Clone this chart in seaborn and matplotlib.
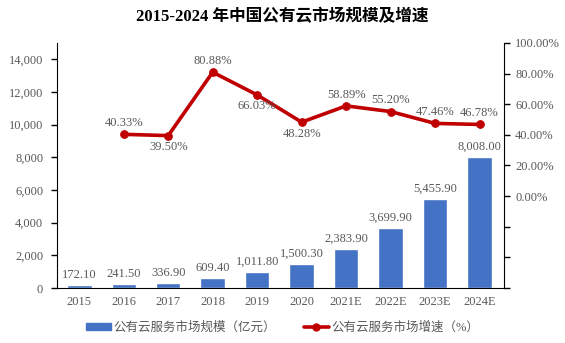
import numpy as np
import pandas as pd
import matplotlib
matplotlib.use("Agg")
import matplotlib.pyplot as plt
import seaborn as sns
from matplotlib.lines import Line2D
from matplotlib.patches import Patch

years = ["2015", "2016", "2017", "2018", "2019", "2020", "2021E", "2022E", "2023E", "2024E"]
market_size = [172.10, 241.50, 336.90, 609.40, 1011.80, 1500.30, 2383.90, 3699.90, 5455.90, 8008.00]
growth_years = ["2016", "2017", "2018", "2019", "2020", "2021E", "2022E", "2023E", "2024E"]
growth_rate = [40.33, 39.50, 80.88, 66.03, 48.28, 58.89, 55.20, 47.46, 46.78]
growth_label_pos = ["above", "below", "above", "below", "below", "above", "above", "above", "above"]

sns.set_style("white")
plt.rcParams["font.family"] = ["Liberation Serif", "Noto Sans CJK SC", "DejaVu Sans"]

bar_color = "#4472C4"
line_color = "#C00000"
text_color = "#595959"

fig = plt.figure(figsize=(5.65, 3.43), dpi=100)
ax = fig.add_axes([0.101, 0.160, 0.791, 0.715])

df_bar = pd.DataFrame({"year": years, "size": market_size})
sns.barplot(data=df_bar, x="year", y="size", order=years, color=bar_color,
            width=0.55, saturation=1, ax=ax)
ax.set_ylim(0, 15000)
ax.set_xlim(-0.5, 9.55)
ax.set_yticks(np.arange(0, 15000, 2000))
ax.set_yticklabels([f"{v:,.0f}" for v in np.arange(0, 15000, 2000)], color=text_color, fontsize=9)
ax.set_xlabel("")
ax.set_ylabel("")
ax.tick_params(axis="x", labelsize=9, colors=text_color, length=0, pad=6)
ax.tick_params(axis="y", length=4, width=1, color="black", direction="out", left=True, pad=6)
ax.spines["top"].set_visible(False)
ax.spines["right"].set_visible(False)
ax.spines["left"].set_color("black")
ax.spines["bottom"].set_color("black")

for i, v in enumerate(market_size):
    ax.text(i, v + 250, f"{v:,.2f}", ha="center", va="bottom", fontsize=9, color=text_color)

ax2 = ax.twinx()
df_line = pd.DataFrame({"x": [years.index(y) for y in growth_years], "g": growth_rate})
sns.lineplot(data=df_line, x="x", y="g", color=line_color, linewidth=2.6,
             marker="o", markersize=5.5, markeredgecolor=line_color, ax=ax2)
ax2.set_ylim(-60, 100)
ax2.set_xlim(-0.5, 9.55)
ticks2 = np.arange(-60, 101, 20)
ax2.set_yticks(ticks2)
ax2.set_yticklabels([f"{t:.2f}%" if t >= 0 else "" for t in ticks2], color=text_color, fontsize=9)
ax2.tick_params(axis="y", length=4, width=1, color="black", direction="out", right=True, pad=4)
ax2.set_ylabel("")
ax2.set_xlabel("")
ax2.spines["top"].set_visible(False)
ax2.spines["left"].set_visible(False)
ax2.spines["bottom"].set_visible(False)
ax2.spines["right"].set_color("black")

for x, g, pos in zip(df_line["x"], growth_rate, growth_label_pos):
    if pos == "above":
        ax2.text(x, g + 3.5, f"{g:.2f}%", ha="center", va="bottom", fontsize=9, color=text_color)
    else:
        ax2.text(x, g - 3.5, f"{g:.2f}%", ha="center", va="top", fontsize=9, color=text_color)

fig.suptitle("2015-2024 年中国公有云市场规模及增速", x=0.5, y=0.975, fontsize=12,
             fontweight="bold", color="black")

handles = [Patch(facecolor=bar_color, edgecolor=bar_color),
           Line2D([0], [0], color=line_color, linewidth=2.6, marker="o", markersize=5)]
labels = ["公有云服务市场规模（亿元）", "公有云服务市场增速（%）"]
fig.legend(handles, labels, loc="center", bbox_to_anchor=(0.5, 0.045), ncol=2, frameon=False,
           fontsize=9, labelcolor=text_color, handlelength=2.0, handleheight=0.5,
           columnspacing=2.2, handletextpad=0.2)

fig.savefig("out.png", dpi=100)
